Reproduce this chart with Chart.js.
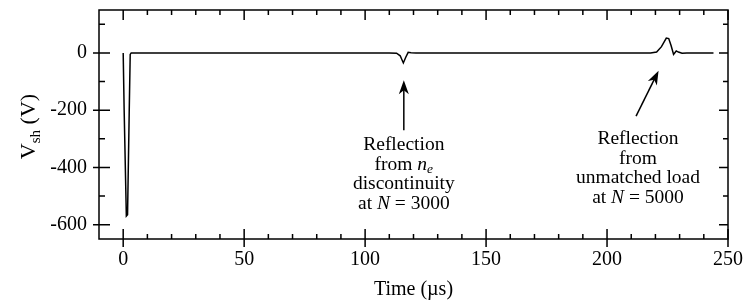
<!DOCTYPE html>
<html>
<head>
<meta charset="utf-8">
<script src="https://cdn.jsdelivr.net/npm/chart.js@4.4.1/dist/chart.umd.min.js"></script>
<style>
  body { margin: 0; background: #fff; }
  canvas { display: block; }
</style>
</head>
<body>
<canvas id="chart1" width="746" height="304"></canvas>
<script>
// sheath voltage trace
var timeUs = [0, 0.4, 1.3, 1.8, 2.5, 2.9, 3.3, 110, 113, 114.5, 115.8, 116.8, 117.8, 119, 121,
	218, 220.5, 222.5, 224.5, 225.5, 226.5, 227.5, 228.6, 229.5, 231, 233, 244];
var vsh = [0, -200, -570, -565, -200, -5, 0, 0, -1, -10, -35, -15, 2, 1, 0,
	0, 3, 22, 52, 50, 25, -5, 7, 3, -1, 0, 0];

var xTickValues = [0, 50, 100, 150, 200, 250];
var yTickValues = [-600, -400, -200, 0];

var serif = '"Liberation Serif", "DejaVu Serif", serif';

var notes = [
	{ x: 116, y: -321, lines: [
		[['Reflection', 'r']],
		[['from ', 'r'], ['n', 'i'], ['e', 'sub']],
		[['discontinuity', 'r']],
		[['at ', 'r'], ['N', 'i'], [' = 3000', 'r']]
	]},
	{ x: 212.8, y: -300, lines: [
		[['Reflection', 'r']],
		[['from', 'r']],
		[['unmatched load', 'r']],
		[['at ', 'r'], ['N', 'i'], [' = 5000', 'r']]
	]}
];
var arrows = [
	{ x0: 116, y0: -270, x1: 116, y1: -95 },
	{ x0: 212, y0: -221, x1: 221.3, y1: -62 }
];

function segFont(style) {
	if (style == 'i') return 'italic 19.5px ' + serif;
	if (style == 'sub') return 'italic 13.5px ' + serif;
	return '19.5px ' + serif;
}

function drawRich(ctx, segs, cx, cy) {
	var w = 0;
	segs.forEach(function(s) {
		ctx.font = segFont(s[1]);
		w += ctx.measureText(s[0]).width;
	});
	var x = cx - w / 2;
	ctx.textAlign = 'left';
	ctx.textBaseline = 'middle';
	segs.forEach(function(s) {
		ctx.font = segFont(s[1]);
		ctx.fillText(s[0], x, s[1] == 'sub' ? cy + 5 : cy);
		x += ctx.measureText(s[0]).width;
	});
}

var framePlugin = {
	id: 'frame',
	afterDraw: function(chart) {
		var ctx = chart.ctx;
		var a = chart.chartArea;
		var xs = chart.scales.x, ys = chart.scales.y;
		ctx.save();
		ctx.strokeStyle = '#000';
		ctx.fillStyle = '#000';
		ctx.lineWidth = 1.5;
		ctx.strokeRect(a.left, a.top, a.right - a.left, a.bottom - a.top);

		ctx.beginPath();
		for (var v = 0; v <= 250; v += 10) {
			var px = xs.getPixelForValue(v);
			var major = v % 50 == 0;
			ctx.moveTo(px, a.bottom + (major ? 8 : 0));
			ctx.lineTo(px, a.bottom - (major ? 10 : 5));
			ctx.moveTo(px, a.top);
			ctx.lineTo(px, a.top + (major ? 10 : 5));
		}
		for (var w = -600; w <= 100; w += 100) {
			var py = ys.getPixelForValue(w);
			var maj = w % 200 == 0;
			ctx.moveTo(a.left - (maj ? 6 : 0), py);
			ctx.lineTo(a.left + (maj ? 11 : 6), py);
			ctx.moveTo(a.right, py);
			ctx.lineTo(a.right - (maj ? 9 : 5), py);
		}
		ctx.stroke();

		// y axis title with subscript
		ctx.save();
		ctx.translate(27, (a.top + a.bottom) / 2 + 2);
		ctx.rotate(-Math.PI / 2);
		ctx.textBaseline = 'alphabetic';
		ctx.textAlign = 'left';
		var parts = [['V', '22px ' + serif, 0], ['sh', '15px ' + serif, 5], [' (V)', '22px ' + serif, 0]];
		var tw = 0;
		parts.forEach(function(p) { ctx.font = p[1]; tw += ctx.measureText(p[0]).width; });
		var tx = -tw / 2;
		parts.forEach(function(p) {
			ctx.font = p[1];
			ctx.fillText(p[0], tx, 8 + p[2]);
			tx += ctx.measureText(p[0]).width;
		});
		ctx.restore();

		// annotations
		notes.forEach(function(n) {
			var cx = xs.getPixelForValue(n.x);
			var cy = ys.getPixelForValue(n.y);
			n.lines.forEach(function(line, i) {
				drawRich(ctx, line, cx, cy + i * 19.7);
			});
		});
		ctx.lineWidth = 1.5;
		arrows.forEach(function(ar) {
			var x0 = xs.getPixelForValue(ar.x0), y0 = ys.getPixelForValue(ar.y0);
			var x1 = xs.getPixelForValue(ar.x1), y1 = ys.getPixelForValue(ar.y1);
			var ang = Math.atan2(y1 - y0, x1 - x0);
			ctx.beginPath();
			ctx.moveTo(x0, y0);
			ctx.lineTo(x1 - 8 * Math.cos(ang), y1 - 8 * Math.sin(ang));
			ctx.stroke();
			ctx.beginPath();
			ctx.moveTo(x1, y1);
			ctx.lineTo(x1 - 14 * Math.cos(ang) + 5 * Math.sin(ang), y1 - 14 * Math.sin(ang) - 5 * Math.cos(ang));
			ctx.lineTo(x1 - 10 * Math.cos(ang), y1 - 10 * Math.sin(ang));
			ctx.lineTo(x1 - 14 * Math.cos(ang) - 5 * Math.sin(ang), y1 - 14 * Math.sin(ang) + 5 * Math.cos(ang));
			ctx.closePath();
			ctx.fill();
		});
		ctx.restore();
	}
};

Chart.defaults.color = '#000';

var ctx = document.getElementById("chart1").getContext("2d");
new Chart(ctx, {
	type: 'line',
	data: {
		datasets: [{
			data: timeUs.map(function(t, i) { return { x: t, y: vsh[i] }; }),
			borderColor: '#000',
			borderWidth: 1.5,
			pointRadius: 0,
			tension: 0,
			fill: false
		}]
	},
	options: {
		responsive: false,
		animation: false,
		layout: { padding: { top: 10, right: 18, left: 0, bottom: 0 } },
		plugins: {
			legend: { display: false },
			tooltip: { enabled: false }
		},
		scales: {
			x: {
				type: 'linear',
				min: -10,
				max: 250,
				afterBuildTicks: function(s) { s.ticks = xTickValues.map(function(v) { return { value: v }; }); },
				afterFit: function(s) { s.height = 65; s.paddingLeft = 0; s.paddingRight = 0; },
				grid: { display: false, drawTicks: false },
				border: { display: false },
				ticks: { padding: 9, maxRotation: 0, font: { family: serif, size: 20 } },
				title: { display: true, text: 'Time (µs)', padding: { top: 0, bottom: 2 }, font: { family: serif, size: 20 } }
			},
			y: {
				min: -650,
				max: 150,
				afterBuildTicks: function(s) { s.ticks = yTickValues.map(function(v) { return { value: v }; }); },
				afterFit: function(s) { s.width = 99; s.paddingTop = 0; s.paddingBottom = 0; },
				grid: { display: false, drawTicks: false },
				border: { display: false },
				ticks: { padding: 12, font: { family: serif, size: 20 } }
			}
		}
	},
	plugins: [framePlugin]
});
</script>
</body>
</html>
